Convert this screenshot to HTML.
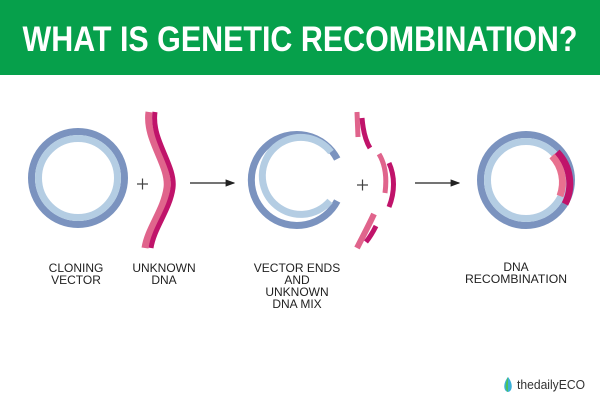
<!DOCTYPE html>
<html><head><meta charset="utf-8"><style>html,body{margin:0;padding:0;background:#fff}svg{display:block}</style></head><body>
<svg width="600" height="400" viewBox="0 0 600 400" xmlns="http://www.w3.org/2000/svg" font-family="Liberation Sans, sans-serif">
<rect x="0" y="0" width="600" height="75" fill="#06a04b"/>
<text x="300" y="51" text-anchor="middle" font-size="35" font-weight="bold" fill="#fff" textLength="555" lengthAdjust="spacingAndGlyphs">WHAT IS GENETIC RECOMBINATION?</text>
<defs><marker id="ah" markerWidth="8" markerHeight="8" refX="7" refY="4" orient="auto"><path d="M0,1 L8,4 L0,7 Z" fill="#222"/></marker></defs>
<!-- circle 1 -->
<circle cx="78" cy="178" r="46.5" fill="none" stroke="#7b93bf" stroke-width="7"/>
<circle cx="78" cy="178" r="39.5" fill="none" stroke="#b4cde3" stroke-width="7"/>
<path d="M137,184 h11 M142.5,178.5 v11" stroke="#444" stroke-width="1.2"/>
<!-- DNA strand -->
<path d="M149,112 C145,140 170,165 167,188 C164,210 148,228 145,248" fill="none" stroke="#e0648c" stroke-width="7"/>
<path d="M155,112 C151,140 176,165 173,188 C170,210 154,228 151,248" fill="none" stroke="#c0136a" stroke-width="5"/>
<line x1="190" y1="183" x2="234" y2="183" stroke="#222" stroke-width="1.2" marker-end="url(#ah)"/>
<!-- circle 2 open -->
<path d="M337.2,159 A45.5,45.5 0 1 0 337.2,201" fill="none" stroke="#7b93bf" stroke-width="7"/>
<path d="M331,152 A38.5,38.5 0 1 0 330,201" fill="none" stroke="#b4cde3" stroke-width="7"/>
<path d="M357,185 h11 M362.5,179.5 v11" stroke="#444" stroke-width="1.2"/>
<!-- fragments -->
<path d="M357,112 L358,137" stroke="#e0648c" stroke-width="5" fill="none"/>
<path d="M362,118 C363,130 365,140 370,148" stroke="#c0136a" stroke-width="5" fill="none"/>
<path d="M379,154 C385,164 387,178 385,193" stroke="#e0648c" stroke-width="5" fill="none"/>
<path d="M389,163 C395,176 395,192 389,207" stroke="#c0136a" stroke-width="5" fill="none"/>
<path d="M374,214 C368,227 362,238 357,248" stroke="#e0648c" stroke-width="6" fill="none"/>
<path d="M376,226 C373,232 370,237 366,242" stroke="#c0136a" stroke-width="5" fill="none"/>
<line x1="415" y1="183" x2="459" y2="183" stroke="#222" stroke-width="1.2" marker-end="url(#ah)"/>
<!-- circle 3 -->
<circle cx="526" cy="180" r="45.5" fill="none" stroke="#7b93bf" stroke-width="7"/>
<circle cx="526" cy="180" r="38.5" fill="none" stroke="#b4cde3" stroke-width="7"/>
<path d="M557,152 A45.5,45.5 0 0 1 565,204" fill="none" stroke="#c0136a" stroke-width="7"/>
<path d="M552,156 A38.5,38.5 0 0 1 560,196" fill="none" stroke="#e8718f" stroke-width="7"/>
<g font-size="12" fill="#222" text-anchor="middle">
<text x="76" y="272">CLONING</text><text x="76" y="284">VECTOR</text>
<text x="164" y="272">UNKNOWN</text><text x="164" y="284">DNA</text>
<text x="297" y="272">VECTOR ENDS</text><text x="297" y="284">AND</text><text x="297" y="296">UNKNOWN</text><text x="297" y="308">DNA MIX</text>
<text x="516" y="271">DNA</text><text x="516" y="283" textLength="102" lengthAdjust="spacingAndGlyphs">RECOMBINATION</text>
</g>
<path d="M508,377 C503,383 503,391 508,392 C513,391 513,383 508,377 Z" fill="#3bb0d8"/>
<path d="M508,377 C505,383 505,390 508,392 Z" fill="#4cc25a"/>
<text x="517" y="389" font-size="12.5" fill="#333" textLength="68" lengthAdjust="spacingAndGlyphs">thedailyECO</text>
</svg>
</body></html>
